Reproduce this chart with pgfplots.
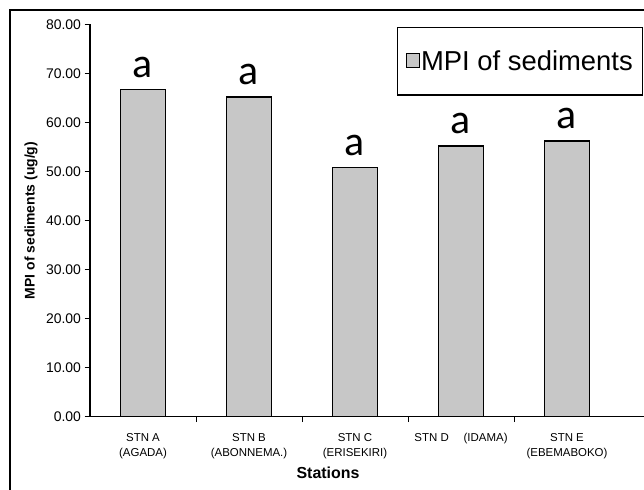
\documentclass[border=0pt]{standalone}
\usepackage{fontspec}
\setmainfont{Liberation Sans}
\newfontfamily\carlito{Carlito}
\usepackage{pgfplots}
\pgfplotsset{compat=1.18}
\begin{document}
\begin{tikzpicture}
\useasboundingbox (0,0) rectangle (644bp,490bp);
\clip (0,0) rectangle (644bp,490bp);
\fill[white] (0,0) rectangle (644bp,490bp);
\draw[line width=1.5bp] (10bp,-20bp) rectangle (700bp,480bp);
\begin{axis}[
 at={(90bp,73.3bp)}, anchor=south west, scale only axis,
 width=560bp, height=392.4bp,
 xmin=-0.5, xmax=4.783, ymin=0, ymax=80,
 ybar, bar width=45bp,
 axis x line=bottom, axis y line=left,
 axis line style={-, line width=1.3bp},
 tick align=outside, major tick length=5.5bp,
 tick style={draw=black, line width=1bp},
 ytick={0,10,...,80},
 yticklabel style={font=\fontsize{14}{14}\selectfont, /pgf/number format/.cd, fixed, fixed zerofill, precision=2, assume math mode=true},
 xtick={0.5,1.5,2.5,3.5}, xticklabels={},
 extra x ticks={0,1,2,3,4},
 extra x tick labels={{STN A\\(AGADA)},{STN B\\(ABONNEMA.)},{STN C\\(ERISEKIRI)},{STN D\hspace{1.3em}(IDAMA)},{STN E\\(EBEMABOKO)}},
 extra x tick style={major tick length=0pt, xticklabel style={align=center, font=\fontsize{11.5}{15}\selectfont, yshift=-13bp}},
 xlabel={Stations},
 xlabel style={at={(axis description cs:0.425,0)}, yshift=-56.3bp, anchor=center, font=\fontsize{16}{16}\selectfont\bfseries},
 ylabel={MPI of sediments (ug/g)},
 ylabel style={at={(axis description cs:-0.1054,0.5)}, anchor=center, font=\fontsize{14}{14}\selectfont\bfseries},
 legend style={at={(axis description cs:0.548,0.993)}, anchor=north west, draw=black, line width=1.3bp, font=\fontsize{27.5}{27.5}\selectfont, inner xsep=8bp, inner ysep=21bp},
 legend image code/.code={\draw[#1, line width=0.6bp] (0bp,-6bp) rectangle (13bp,8bp);},
 nodes near coords={a},
 every node near coord/.append style={font=\fontsize{42}{42}\carlito, inner sep=0pt, anchor=south, yshift=11bp},
]
\addplot[draw=black, line width=1.5bp, fill=black!22] coordinates {(0,66.7) (1,65.2) (2,50.8) (3,55.2) (4,56.2)};
\addlegendentry{MPI of sediments}
\end{axis}
\end{tikzpicture}
\end{document}
